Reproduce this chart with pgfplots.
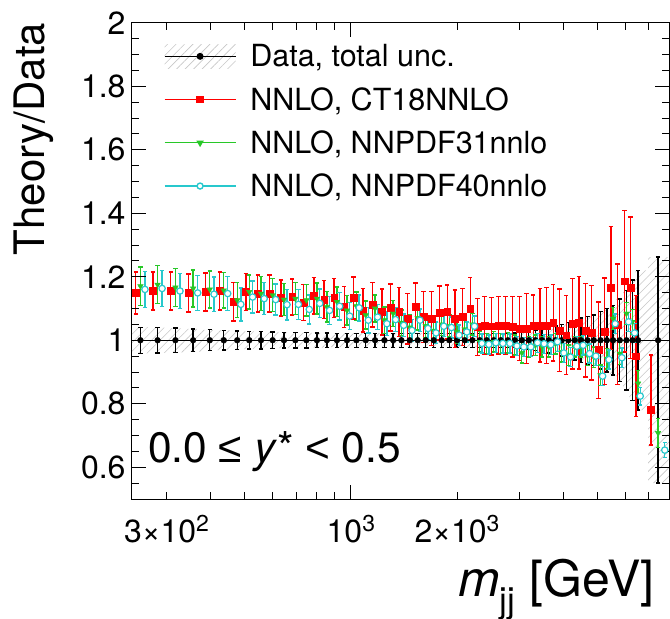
\documentclass[border=0pt]{standalone}
\usepackage{pgfplots}
\pgfplotsset{compat=1.18}
\usepackage{pgfplotstable}
\usetikzlibrary{patterns.meta}
\usepackage{fontspec}
\setmainfont{TeX Gyre Heros}
\newfontfamily\libsans{Liberation Sans}
\definecolor{cred}{RGB}{255,0,0}
\definecolor{cgreen}{RGB}{40,200,40}
\definecolor{ccyan}{RGB}{40,200,205}

% m: bin centre; f: horizontal offset fraction; dp/dm: data total unc.; r/rp/rm: CT18; g/ge: NNPDF31; c/ce: NNPDF40
\pgfplotstableread{
m f dp dm r rp rm g ge c ce
253 .030 .041 .041 1.149 .066 .066 1.170 .061 1.160 .056
283 .030 .040 .040 1.155 .060 .060 1.175 .060 1.163 .056
318 .030 .038 .038 1.155 .060 .060 1.166 .060 1.155 .055
357 .030 .036 .036 1.149 .060 .060 1.163 .058 1.149 .055
398 .028 .033 .033 1.152 .060 .060 1.160 .058 1.145 .054
436 .026 .031 .031 1.155 .060 .060 1.157 .056 1.147 .053
476 .024 .029 .029 1.121 .060 .060 1.126 .055 1.113 .052
515 .022 .028 .028 1.152 .058 .058 1.152 .054 1.136 .050
556 .021 .027 .027 1.147 .058 .058 1.147 .053 1.131 .050
600 .020 .026 .026 1.147 .058 .058 1.142 .052 1.128 .049
646 .020 .025 .025 1.133 .057 .057 1.128 .051 1.112 .048
696 .020 .024 .024 1.136 .057 .057 1.131 .050 1.113 .047
748 .019 .024 .024 1.119 .056 .056 1.126 .050 1.097 .046
801 .019 .023 .023 1.140 .058 .058 1.131 .049 1.116 .045
855 .018 .023 .023 1.128 .060 .060 1.105 .048 1.094 .044
913 .018 .022 .022 1.133 .062 .062 1.121 .047 1.107 .043
975 .018 .022 .022 1.105 .064 .064 1.094 .046 1.076 .042
1037 .018 .022 .022 1.133 .066 .066 1.107 .045 1.102 .041
1102 .017 .022 .022 1.094 .068 .068 1.079 .044 1.063 .040
1171 .017 .022 .022 1.112 .070 .070 1.100 .043 1.073 .039
1245 .016 .022 .022 1.089 .072 .072 1.063 .042 1.052 .038
1318 .016 .022 .022 1.103 .074 .074 1.084 .041 1.065 .037
1391 .015 .022 .022 1.089 .077 .077 1.055 .040 1.047 .036
1469 .015 .022 .022 1.068 .080 .080 1.040 .039 1.031 .035
1547 .015 .022 .022 1.105 .075 .075 1.070 .038 1.063 .035
1630 .015 .022 .022 1.073 .080 .080 1.045 .037 1.037 .034
1718 .015 .022 .022 1.068 .085 .085 1.030 .036 1.023 .034
1810 .014 .022 .022 1.086 .085 .085 1.050 .035 1.044 .033
1903 .014 .022 .022 1.089 .085 .085 1.045 .035 1.040 .033
2000 .014 .022 .022 1.068 .090 .090 1.025 .034 1.016 .032
2103 .014 .022 .022 1.073 .090 .090 1.035 .034 1.026 .032
2211 .014 .022 .022 1.100 .097 .097 1.050 .034 1.044 .032
2320 .014 .022 .022 1.042 .090 .090 0.995 .032 0.990 .030
2428 .014 .022 .022 1.047 .090 .090 0.990 .032 0.987 .030
2542 .014 .022 .022 1.044 .090 .090 0.995 .032 0.992 .030
2661 .014 .022 .022 1.047 .090 .090 0.990 .032 0.990 .030
2786 .014 .022 .022 1.047 .090 .090 0.992 .032 0.990 .030
2916 .014 .023 .023 1.042 .095 .095 0.985 .032 0.982 .030
3052 .014 .025 .025 1.037 .100 .100 0.960 .032 0.979 .030
3195 .014 .028 .028 1.037 .110 .110 0.979 .032 0.979 .030
3337 .014 .032 .032 1.047 .095 .095 0.984 .032 0.992 .030
3484 .014 .036 .036 1.047 .116 .116 0.979 .032 0.989 .030
3640 .014 .040 .040 1.047 .120 .120 0.979 .032 0.986 .030
3803 .014 .045 .045 1.055 .120 .120 0.989 .032 0.995 .030
3963 .014 .050 .050 1.031 .130 .130 0.963 .032 0.960 .030
4140 .014 .055 .055 1.016 .124 .124 0.953 .032 0.947 .030
4314 .014 .062 .062 1.052 .142 .142 0.979 .032 0.981 .030
4496 .014 .070 .070 1.055 .145 .145 0.979 .032 0.984 .030
4688 .014 .075 .075 1.031 .147 .147 0.953 .032 0.958 .030
4885 .014 .080 .080 1.024 .149 .149 0.947 .032 0.950 .030
5104 .014 .090 .090 0.969 .152 .152 0.890 .032 0.887 .030
5319 .014 .100 .100 1.028 .168 .168 0.942 .032 0.939 .030
5541 .014 .110 .110 1.165 .194 .194 1.068 .035 1.052 .030
5789 .014 .130 .130 1.050 .190 .190 0.958 .035 0.945 .030
6048 .014 .157 .157 1.186 .223 .223 1.084 .035 1.058 .030
6290 .014 .190 .190 1.165 .223 .223 1.058 .038 1.023 .030
6526 .014 .220 .220 0.950 .190 .190 0.864 .040 0.824 .028
7434 .045 .262 .450 0.780 .173 .110 0.708 .045 0.654 .024
}\tab

% outline of the total-uncertainty band: upper edge left to right, lower edge right to left
\pgfplotstableread{
x y
239 1.041
253 1.041
283 1.040
318 1.038
357 1.036
398 1.033
436 1.031
476 1.029
515 1.028
556 1.027
600 1.026
646 1.025
696 1.024
801 1.023
913 1.022
2786 1.022
2916 1.023
3052 1.025
3195 1.028
3337 1.032
3484 1.036
3640 1.040
3803 1.045
3963 1.050
4140 1.055
4314 1.062
4496 1.070
4688 1.075
4885 1.080
5104 1.090
5319 1.100
5541 1.110
5789 1.130
6048 1.157
6290 1.190
6526 1.220
7434 1.262
8000 1.262
8000 0.550
7434 0.550
6526 0.780
6290 0.810
6048 0.843
5789 0.870
5541 0.890
5319 0.900
5104 0.910
4885 0.920
4688 0.925
4496 0.930
4314 0.938
4140 0.945
3963 0.950
3803 0.955
3640 0.960
3484 0.964
3337 0.968
3195 0.972
3052 0.975
2916 0.977
2786 0.978
913 0.978
801 0.977
696 0.976
646 0.975
600 0.974
556 0.973
515 0.972
476 0.971
436 0.969
398 0.967
357 0.964
318 0.962
283 0.960
253 0.959
239 0.959
}\band

\begin{document}
\begin{tikzpicture}
\begin{axis}[
  at={(0pt,0pt)}, anchor=south west,
  scale only axis, width=537.6pt, height=476.3pt,
  xmode=log, xmin=239, xmax=8000, ymin=0.5, ymax=2,
  axis on top,
  axis line style={line width=0.9pt},
  tick align=inside,
  major tick length=14pt, minor tick length=7.5pt,
  every tick/.style={black, line width=0.9pt},
  xtick={1000}, xticklabels={10\raisebox{11pt}{\fontsize{23}{23}\selectfont 3}},
  extra x ticks={300,2000},
  extra x tick labels={3×10\raisebox{11pt}{\fontsize{23}{23}\selectfont 2},2×10\raisebox{11pt}{\fontsize{23}{23}\selectfont 3}},
  extra x tick style={major tick length=7.5pt},
  minor xtick={300,400,500,600,700,800,900,2000,3000,4000,5000,6000,7000},
  ytick={0.6,0.8,1,1.2,1.4,1.6,1.8,2},
  minor ytick={0.55,0.65,0.7,0.75,0.85,0.9,0.95,1.05,1.1,1.15,1.25,1.3,1.35,1.45,1.5,1.55,1.65,1.7,1.75,1.85,1.9,1.95},
  /pgf/number format/assume math mode=true,
  ticklabel style={font=\fontsize{32}{32}\selectfont},
  yticklabel style={inner sep=0pt, xshift=-6pt},
  xticklabel style={inner sep=0pt, yshift=-16pt},
  xlabel={\textit{m}\textsubscript{jj} [GeV]},
  xlabel style={font=\fontsize{50}{50}\selectfont, at={(axis description cs:0.9734,-0.2037)}, anchor=base east, inner sep=0pt},
  ylabel={Theory/Data},
  ylabel style={font=\fontsize{42}{42}\selectfont, at={(axis description cs:-0.1631,1)}, anchor=base east, inner sep=0pt},
  legend style={draw=none, fill=none, at={(axis description cs:0.0595,0.955)}, anchor=north west,
    font=\fontsize{30.5}{30.5}\selectfont, inner sep=0pt, row sep=19pt,
    nodes={inner sep=0pt},
    /tikz/every odd column/.append style={column sep=14pt}},
  legend cell align=left,
  legend image code/.code={\draw[mark repeat=2,mark phase=2,#1] plot coordinates {(0pt,0pt) (35.5pt,0pt) (71pt,0pt)};},
  clip=true,
]
% total uncertainty band
\addplot[draw=none, pattern={Lines[angle=45,distance=6pt,line width=0.6pt]}, pattern color=black!22, const plot mark mid, forget plot]
  table[x=x, y=y] {\band} -- cycle;

\addlegendimage{legend image code/.code={
  \path[draw=none, pattern={Lines[angle=45,distance=6pt,line width=0.6pt]}, pattern color=black!22] (0pt,-12pt) rectangle (71pt,12pt);
  \draw[black, line width=1.3pt, mark=*, mark size=2.8pt, mark repeat=2, mark phase=2] plot coordinates {(0pt,0pt) (35.5pt,0pt) (71pt,0pt)};}}
\addlegendentry{Data, total unc.}
\addlegendimage{cred, line width=1.4pt, mark=square*, mark size=3.2pt}
\addlegendentry{NNLO, CT18NNLO}
\addlegendimage{cgreen, line width=1.4pt, mark=triangle*, mark size=3pt, mark options={rotate=180}}
\addlegendentry{NNLO, NNPDF31nnlo}
\addlegendimage{ccyan, line width=1.4pt, mark=*, mark size=3pt, mark options={fill=white}}
\addlegendentry{NNLO, NNPDF40nnlo}

% data
\addplot[black, line width=1.4pt, forget plot] coordinates {(239,1) (8000,1)};
\addplot[black, only marks, mark=*, mark size=2.9pt, forget plot,
  error bars/.cd, y dir=both, y explicit,
  error bar style={line width=1.4pt, black},
  error mark options={black, line width=1.4pt, mark size=2.2pt, rotate=90}]
  table[x=m, y expr=1, y error plus=dp, y error minus=dm] {\tab};
% CT18
\addplot[cred, only marks, mark=square*, mark size=3.4pt, forget plot,
  error bars/.cd, y dir=both, y explicit,
  error bar style={line width=1.4pt, cred},
  error mark options={cred, line width=1.4pt, mark size=2.2pt, rotate=90}]
  table[x expr=\thisrow{m}*(1-\thisrow{f}), y=r, y error plus=rp, y error minus=rm] {\tab};
% NNPDF31
\addplot[cgreen, only marks, mark=triangle*, mark size=3.2pt, mark options={rotate=180}, forget plot,
  error bars/.cd, y dir=both, y explicit,
  error bar style={line width=1.4pt, cgreen},
  error mark options={cgreen, line width=1.4pt, mark size=2.2pt, rotate=90}]
  table[x=m, y=g, y error=ge] {\tab};
% NNPDF40
\addplot[ccyan, only marks, mark=*, mark size=3.2pt, mark options={fill=white, line width=1.2pt}, forget plot,
  error bars/.cd, y dir=both, y explicit,
  error bar style={line width=1.4pt, ccyan},
  error mark options={ccyan, line width=1.4pt, mark size=2.2pt, rotate=90}]
  table[x expr=\thisrow{m}*(1+\thisrow{f}), y=c, y error=ce] {\tab};

\node[anchor=base west, inner sep=0pt, font=\fontsize{42.5}{42.5}\selectfont] at (axis description cs:0.03,0.0756) {0.0 {\libsans ≤} \textit{y}* {\libsans <} 0.5};
\end{axis}
\pgfresetboundingbox
\path[use as bounding box] (-131.7pt,-120pt) rectangle (538.3pt,499pt);
\end{tikzpicture}
\end{document}
